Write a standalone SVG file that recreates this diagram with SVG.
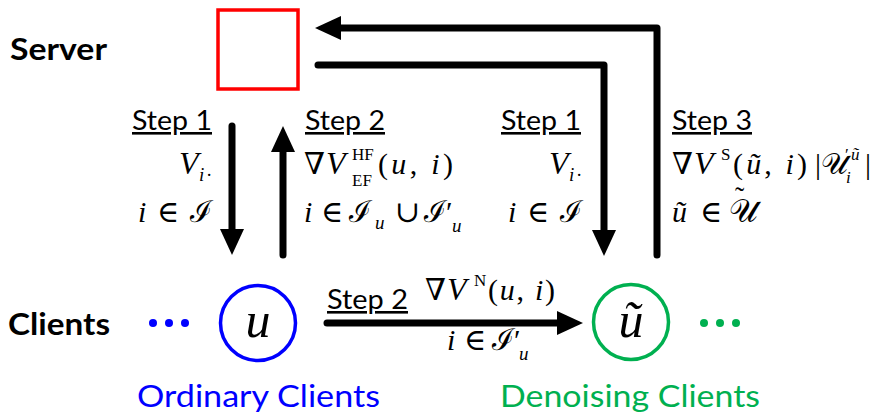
<svg xmlns="http://www.w3.org/2000/svg" width="876" height="415" viewBox="0 0 876 415">
<defs>
<marker id="ah" viewBox="0 0 26 24" refX="4" refY="12" markerWidth="26" markerHeight="24" markerUnits="userSpaceOnUse" orient="auto">
<path d="M0,0 L26,12 L0,24 Z" fill="#000"/>
</marker>
</defs>
<style>
.lab{font-family:Lato,"Open Sans","Liberation Sans",sans-serif;fill:#000}
.big{font-size:30px;font-weight:bold}
.step{font-size:26px;text-decoration:underline}
.m{font-family:"Liberation Serif","DejaVu Serif",serif;font-size:30px;fill:#000}
.it{font-style:italic}
.sub{font-size:19px}
.sup{font-size:17px}
.conn{fill:none;stroke:#000;stroke-width:7;stroke-linecap:round;stroke-linejoin:round}
.arr{marker-end:url(#ah)}
</style>
<rect width="876" height="415" fill="#fff"/>

<g id="row-labels">
<text class="lab big" x="10" y="60" textLength="97" lengthAdjust="spacingAndGlyphs">Server</text>
<text class="lab big" x="8" y="335" textLength="102" lengthAdjust="spacingAndGlyphs">Clients</text>
</g>

<g id="server">
<rect x="218" y="10" width="80" height="79" fill="none" stroke="#ff0000" stroke-width="3.5"/>
</g>

<g id="client-u">
<circle cx="258" cy="323" r="37.5" fill="none" stroke="#0000ff" stroke-width="3.5"/>
<text class="m it" x="258" y="337" text-anchor="middle" style="font-size:50px">u</text>
<circle cx="153" cy="323" r="4" fill="#0000ff"/>
<circle cx="169" cy="323" r="4" fill="#0000ff"/>
<circle cx="185" cy="323" r="4" fill="#0000ff"/>
<text class="lab" x="137" y="407" style="font-size:30px;fill:#0000ff" textLength="243" lengthAdjust="spacingAndGlyphs">Ordinary Clients</text>
</g>

<g id="client-utilde">
<circle cx="631" cy="322" r="37.5" fill="none" stroke="#00b050" stroke-width="3.5"/>
<text class="m it" x="631" y="337" text-anchor="middle" style="font-size:50px">ũ</text>
<circle cx="704" cy="323" r="4" fill="#00b050"/>
<circle cx="720" cy="323" r="4" fill="#00b050"/>
<circle cx="736" cy="323" r="4" fill="#00b050"/>
<text class="lab" x="500" y="407" style="font-size:30px;fill:#00b050" textLength="260" lengthAdjust="spacingAndGlyphs">Denoising Clients</text>
</g>

<g id="connectors">
<path class="conn arr" d="M657,255 L657,28 L337,28"/>
<path class="conn arr" d="M318,65 L604,65 L604,234"/>
<path class="conn arr" d="M232,126 L232,233"/>
<path class="conn arr" d="M283,255 L283,148"/>
<path class="conn arr" d="M327,323 L561,323"/>
</g>

<g id="label-step1-left">
<text class="lab step" x="132" y="130" textLength="80" lengthAdjust="spacingAndGlyphs">Step 1</text>
<text class="m it" x="179" y="174" style="font-size:32px">V<tspan class="sub" x="199" y="181">i</tspan><tspan class="sub" x="206" y="181" style="font-style:normal">·</tspan></text>
<text class="m" x="138" y="222" textLength="74" lengthAdjust="spacing"><tspan class="it">i</tspan> ∈ ℐ</text>
</g>

<g id="label-step2-up">
<text class="lab step" x="305" y="130" textLength="80" lengthAdjust="spacingAndGlyphs">Step 2</text>
<text class="m" x="304" y="174">∇<tspan class="it" x="326" style="font-size:32px">V</tspan><tspan class="sup" x="352" y="160">HF</tspan><tspan class="sup" x="352" y="186">EF</tspan></text>
<text class="m" x="378" y="174" textLength="75" lengthAdjust="spacing">(<tspan class="it">u</tspan>, <tspan class="it">i</tspan>)</text>
<text class="m" x="304" y="222"><tspan class="it">i</tspan><tspan x="321">∈</tspan><tspan x="349">ℐ</tspan><tspan class="it sub" x="375" y="229">u</tspan><tspan x="395" y="222">∪</tspan><tspan x="424">ℐ′</tspan><tspan class="it sub" x="452" y="232">u</tspan></text>
</g>

<g id="label-step1-right">
<text class="lab step" x="501" y="130" textLength="80" lengthAdjust="spacingAndGlyphs">Step 1</text>
<text class="m it" x="549" y="174" style="font-size:32px">V<tspan class="sub" x="569" y="181">i</tspan><tspan class="sub" x="576" y="181" style="font-style:normal">·</tspan></text>
<text class="m" x="508" y="222" textLength="74" lengthAdjust="spacing"><tspan class="it">i</tspan> ∈ ℐ</text>
</g>

<g id="label-step3">
<text class="lab step" x="672" y="130" textLength="80" lengthAdjust="spacingAndGlyphs">Step 3</text>
<text class="m" x="672" y="174">∇<tspan class="it" x="694" style="font-size:32px">V</tspan><tspan class="sup" x="721" y="160">S</tspan></text>
<text class="m" x="733" y="174" textLength="74" lengthAdjust="spacing">(<tspan class="it">ũ</tspan>, <tspan class="it">i</tspan>)</text>
<text class="m" x="815" y="174">|𝒰<tspan class="sup" x="845" y="160">′</tspan><tspan class="it sup" x="851" y="160">ũ</tspan><tspan class="it sup" x="846" y="183">i</tspan><tspan x="865" y="174">|</tspan></text>
<text class="m" x="672" y="222"><tspan class="it">ũ</tspan><tspan x="700">∈</tspan><tspan x="729" style="font-size:32px">𝒰</tspan><tspan x="735" y="206" style="font-size:28px">˜</tspan></text>
</g>

<g id="label-step2-horizontal">
<text class="lab step" x="327" y="309" textLength="81" lengthAdjust="spacingAndGlyphs">Step 2</text>
<text class="m" x="425" y="300">∇<tspan class="it" x="447" style="font-size:32px">V</tspan><tspan class="sup" x="474" y="286">N</tspan></text>
<text class="m" x="488" y="300" textLength="67" lengthAdjust="spacing">(<tspan class="it">u</tspan>, <tspan class="it">i</tspan>)</text>
<text class="m" x="447" y="350"><tspan class="it">i</tspan><tspan x="464">∈</tspan><tspan x="492">ℐ′</tspan><tspan class="it sub" x="519" y="360">u</tspan></text>
</g>
</svg>
